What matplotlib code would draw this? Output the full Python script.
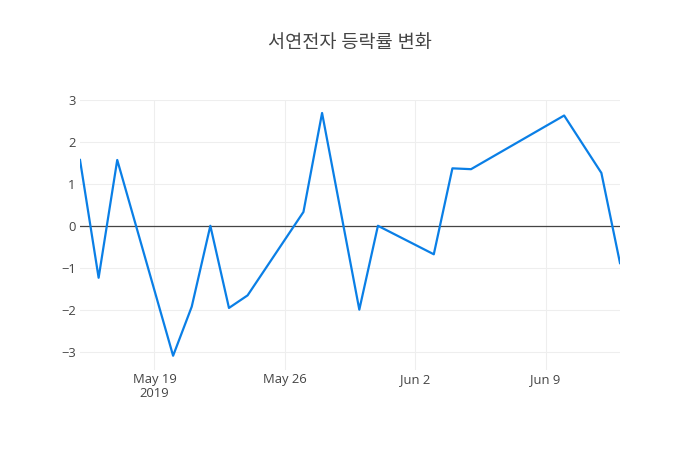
import datetime as dt
import matplotlib
matplotlib.use("Agg")
import matplotlib.pyplot as plt

plt.rcParams["font.family"] = ["Open Sans", "Noto Sans CJK KR", "DejaVu Sans"]

dates = ["2019-05-15", "2019-05-16", "2019-05-17", "2019-05-20", "2019-05-21",
         "2019-05-22", "2019-05-23", "2019-05-24", "2019-05-27", "2019-05-28",
         "2019-05-30", "2019-05-31", "2019-06-03", "2019-06-04", "2019-06-05",
         "2019-06-10", "2019-06-12", "2019-06-13"]
change = [1.57, -1.24, 1.57, -3.10, -1.93,
          0.00, -1.96, -1.66, 0.33, 2.69,
          -2.00, 0.00, -0.68, 1.37, 1.35,
          2.63, 1.26, -0.89]
tick_dates = ["2019-05-19", "2019-05-26", "2019-06-02", "2019-06-09"]
tick_labels = ["May 19\n2019", "May 26", "Jun 2", "Jun 9"]
title = "서연전자 등락률 변화"

x = [dt.datetime.strptime(d, "%Y-%m-%d") for d in dates]
xt = [dt.datetime.strptime(d, "%Y-%m-%d") for d in tick_dates]

fig = plt.figure(figsize=(7, 4.5), dpi=100)
ax = fig.add_axes([80 / 700, 80 / 450, 540 / 700, 270 / 450])

ax.axhline(0, color="#444444", lw=0.9, zorder=2)
ax.plot(x, change, color="#0a7fe6", lw=1.6, zorder=3)

ax.set_xlim(x[0], x[-1])
ax.set_ylim(-3.44, 3.0)
ax.set_yticks([-3, -2, -1, 0, 1, 2, 3])
ax.set_xticks(xt)
ax.set_xticklabels(tick_labels, linespacing=1.15)
ax.grid(True, color="#eeeeee", lw=0.8, zorder=0)
ax.set_axisbelow(True)
for s in ax.spines.values():
    s.set_visible(False)
ax.tick_params(length=0, labelsize=9.4, labelcolor="#444444")
ax.tick_params(axis="x", pad=2)
ax.tick_params(axis="y", pad=3)

fig.text(350 / 700, 1 - 43 / 450, title, ha="center", va="center",
         fontsize=13.4, color="#444444")

fig.savefig("out.png", dpi=100)
